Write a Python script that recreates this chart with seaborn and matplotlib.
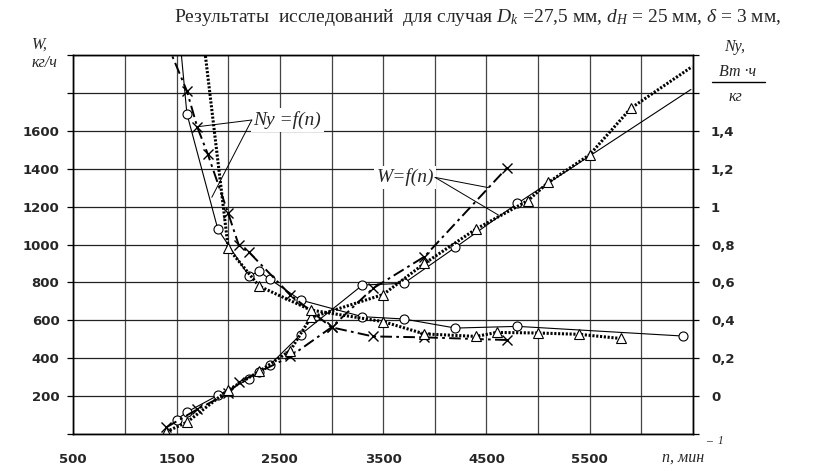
"""Results of tests for D_k=27.5 mm, d_H=25 mm, delta=3 mm: W=f(n) and Ny=f(n)."""

import matplotlib

matplotlib.use("Agg")
import matplotlib.pyplot as plt
import seaborn as sns
from matplotlib.lines import Line2D
from matplotlib.ticker import FixedLocator, FuncFormatter


# W = f(n), kg/h (left axis)
W_CIRCLE_N = [1500, 1600, 1900, 2200, 2300, 2400, 2700, 3300, 3700, 4200, 4800, 6480]
W_CIRCLE = [75, 116, 204, 290, 325, 363, 524, 786, 795, 985, 1217, 1818]

W_CROSS_N = [1400, 1700, 2000, 2100, 2600, 3000, 3400, 3900, 4700]
W_CROSS = [35, 130, 215, 272, 409, 563, 768, 936, 1405]

W_TRI_N = [1400, 1600, 2000, 2300, 2600, 2800, 3500, 3900, 4400, 4900, 5100, 5500, 5900, 6490]
W_TRI = [12, 62, 232, 330, 440, 615, 736, 900, 1082, 1231, 1328, 1474, 1720, 1938]

# Ny = f(n), W*h/kg (right axis)
NY_CIRCLE_N = [1500, 1600, 1900, 2200, 2300, 2400, 2700, 3300, 3700, 4200, 4800, 6400]
NY_CIRCLE = [2.07, 1.49, 0.88, 0.635, 0.658, 0.618, 0.507, 0.419, 0.407, 0.359, 0.368, 0.317]

NY_CROSS_N = [1400, 1600, 1700, 1800, 2000, 2100, 2200, 2600, 3000, 3400, 3900, 4700]
NY_CROSS = [1.87, 1.61, 1.42, 1.28, 0.964, 0.80, 0.76, 0.535, 0.363, 0.315, 0.31, 0.296]

NY_TRI_N = [1700, 2000, 2300, 2800, 3500, 3900, 4400, 4600, 5000, 5400, 5800]
NY_TRI = [2.16, 0.78, 0.58, 0.454, 0.393, 0.328, 0.315, 0.336, 0.333, 0.326, 0.304]

X_TICKS = list(range(500, 7000, 500))
X_LABELS = [500, 1500, 2500, 3500, 4500, 5500]
W_TICKS = list(range(0, 2200, 200))
W_LABELS = [200, 400, 600, 800, 1000, 1200, 1400, 1600]
NY_TICKS = [-0.2, 0, 0.2, 0.4, 0.6, 0.8, 1.0, 1.2, 1.4, 1.6, 1.8]
NY_LABELS = [0, 0.2, 0.4, 0.6, 0.8, 1.0, 1.2, 1.4]

FIG_W, FIG_H = 825, 471


def fpos(x, y):
    return x / FIG_W, 1 - y / FIG_H


def ny_fmt(v, _):
    for lab in NY_LABELS:
        if abs(v - lab) < 1e-6:
            return f"{lab:g}".replace(".", ",")
    return ""


sns.set_theme(style="white")
plt.rcParams["font.family"] = ["DejaVu Sans"]
plt.rcParams["mathtext.fontset"] = "custom"
plt.rcParams["mathtext.rm"] = "Liberation Serif"
plt.rcParams["mathtext.it"] = "Liberation Serif:italic"

fig = plt.figure(figsize=(FIG_W / 100, FIG_H / 100), dpi=100)
ax = fig.add_axes([73.3 / FIG_W, 1 - 434 / FIG_H, (693 - 73.3) / FIG_W, (434 - 55) / FIG_H])
ax2 = ax.twinx()

ax.set_xlim(500, 6500)
ax.set_ylim(0, 2000)
ax2.set_ylim(-0.2, 1.8)

serif = "Liberation Serif"
open_marker = dict(markerfacecolor="white", markeredgecolor="black", markeredgewidth=0.8)
dashdot = (0, (6, 2.2, 1.4, 2.2))
dotted = (0, (0.7, 0.55))

# W curves
sns.lineplot(x=W_CIRCLE_N, y=W_CIRCLE, ax=ax, color="black", lw=0.8, marker="o",
             markersize=6.5, markevery=list(range(len(W_CIRCLE_N) - 1)), **open_marker)
sns.lineplot(x=W_CROSS_N, y=W_CROSS, ax=ax, color="black", lw=1.4, linestyle=dashdot,
             marker="x", markersize=7, markeredgecolor="black", markeredgewidth=1.0)
sns.lineplot(x=W_TRI_N, y=W_TRI, ax=ax, color="black", lw=2.2, linestyle=dotted, marker="^",
             markersize=7, markevery=list(range(len(W_TRI_N) - 1)), **open_marker)

# Ny curves
sns.lineplot(x=NY_CIRCLE_N, y=NY_CIRCLE, ax=ax2, color="black", lw=0.8, marker="o",
             markersize=6.5, **open_marker)
sns.lineplot(x=NY_CROSS_N, y=NY_CROSS, ax=ax2, color="black", lw=1.4, linestyle=dashdot,
             marker="x", markersize=7, markeredgecolor="black", markeredgewidth=1.0)
sns.lineplot(x=NY_TRI_N, y=NY_TRI, ax=ax2, color="black", lw=2.2, linestyle=dotted, marker="^",
             markersize=7, **open_marker)

# ticks and grid
ax.xaxis.set_major_locator(FixedLocator(X_TICKS))
ax.xaxis.set_major_formatter(FuncFormatter(lambda v, _: f"{int(v)}" if int(v) in X_LABELS else ""))
ax.yaxis.set_major_locator(FixedLocator(W_TICKS))
ax.yaxis.set_major_formatter(FuncFormatter(lambda v, _: f"{int(v)}" if int(v) in W_LABELS else ""))
ax2.yaxis.set_major_locator(FixedLocator(NY_TICKS))
ax2.yaxis.set_major_formatter(FuncFormatter(ny_fmt))

ax.grid(True, axis="y", color="#222222", lw=0.9)
ax.grid(True, axis="x", color="#444444", lw=0.9)
tick_font = dict(labelsize=9.5, direction="out", length=4, width=0.9, color="black")
ax.tick_params(axis="x", pad=10, **tick_font)
ax.tick_params(axis="y", left=True, pad=6, **tick_font)
ax2.tick_params(axis="y", right=True, pad=9, **tick_font)
for lab in ax.get_xticklabels() + ax.get_yticklabels() + ax2.get_yticklabels():
    lab.set_fontweight("bold")
for a in (ax, ax2):
    a.set_xlabel("")
    a.set_ylabel("")
    for sp in a.spines.values():
        sp.set_color("black")
        sp.set_linewidth(1.0)

# curve labels with leader lines
lbl = dict(fontsize=14, style="italic", family=serif, va="center",
           bbox=dict(facecolor="white", edgecolor="none", pad=2))
leader = dict(arrowstyle="-", lw=0.7, color="black", shrinkA=0, shrinkB=0)
ax.text(2245, 1657, "Nу =f(n)", ha="left", **lbl)
ax.annotate("", xy=(1711, 1622), xytext=(2228, 1657), arrowprops=leader)
ax.annotate("", xy=(1841, 1249), xytext=(2228, 1657), arrowprops=leader)
ax.text(3990, 1354, "W=f(n)", ha="right", **lbl)
ax.annotate("", xy=(4520, 1300), xytext=(4003, 1354), arrowprops=leader)
ax.annotate("", xy=(4617, 1155), xytext=(4003, 1354), arrowprops=leader)

# title and axis captions
fig.text(*fpos(478, 18), r"Результаты  исследований  для случая $D_k$ =27,5 мм, $d_H$ = 25 мм, $\delta$ = 3 мм,",
         ha="center", va="center", fontsize=14, family=serif)
cap = dict(family=serif, style="italic", fontsize=11.5, va="center")
fig.text(*fpos(32, 45), "W,", ha="left", **cap)
fig.text(*fpos(32, 63), "кг/ч", ha="left", **cap)
fig.text(*fpos(735, 47), "Nу,", ha="center", **cap)
fig.text(*fpos(738, 72), "Вт ·ч", ha="center", **cap)
fig.text(*fpos(735, 97), "кг", ha="center", **cap)
fig.add_artist(Line2D([712 / FIG_W, 765 / FIG_W], [1 - 82 / FIG_H, 1 - 82 / FIG_H],
                      color="black", lw=1.0, transform=fig.transFigure))
fig.text(*fpos(683, 458), "n, мин", ha="center", **cap)
fig.text(*fpos(715, 441), "–  1", ha="center", family=serif, style="italic", fontsize=8.5, va="center")

fig.savefig("out.png", dpi=100)
plt.close(fig)
